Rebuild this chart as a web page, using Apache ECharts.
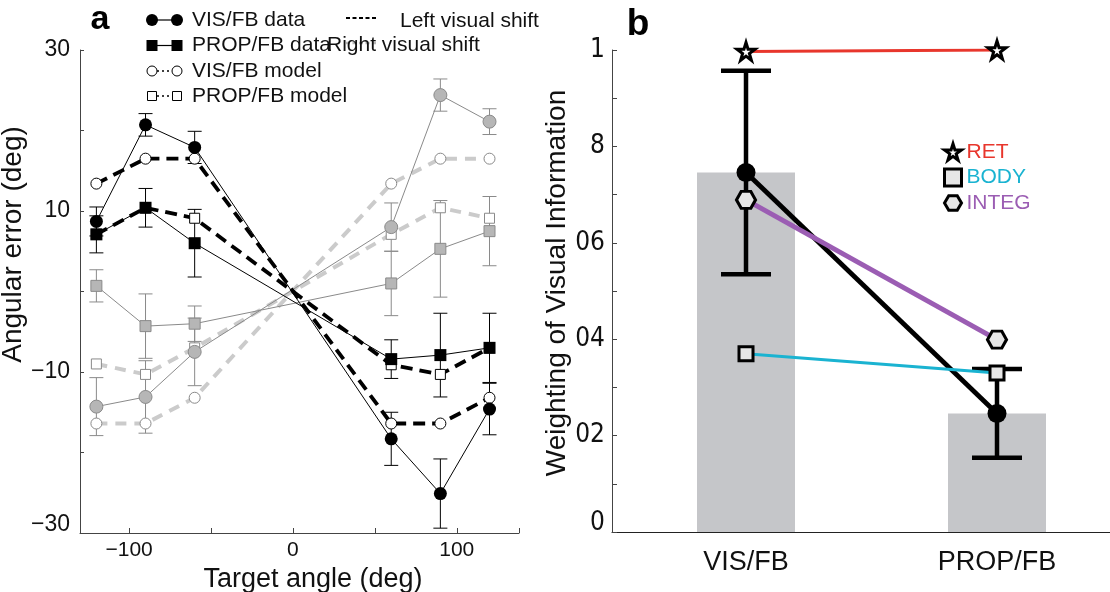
<!DOCTYPE html>
<html><head><meta charset="utf-8">
<script src="https://cdn.jsdelivr.net/npm/echarts@6/dist/echarts.min.js"></script>
<style>html,body{margin:0;padding:0;background:#fff}#c{width:1110px;height:592px}</style>
</head><body><div id="c"></div>
<script>
// ---------- Panel a data ----------
const angles = [-120, -90, -60, 60, 90, 120];
const visDataLeft   = [8.7, 20.7, 17.9, -18.3, -25.1, -14.6];
const visErrLeft    = [1.8, 1.4, 2.0, 3.3, 4.3, 3.2];
const propDataLeft  = [7.1, 10.4, 6.0, -8.4, -7.9, -7.0];
const propErrLeft   = [2.3, 2.4, 4.2, 2.4, 5.2, 4.3];
const visModelLeft  = [13.4, 16.5, 16.5, -16.4, -16.4, -13.2];
const propModelLeft = [7.1, 10.4, 9.1, -9.1, -10.3, -7.0];
const visDataRight   = [-14.3, -13.1, -7.5, 8.0, 24.4, 21.1];
const visErrRight    = [3.6, 4.5, 4.2, 3.0, 2.0, 1.6];
const propDataRight  = [0.7, -4.3, -4.0, 1.0, 5.3, 7.5];
const propErrRight   = [2.0, 4.0, 2.2, 4.0, 6.0, 4.3];
const visModelRight  = [-16.4, -16.4, -13.2, 13.4, 16.5, 16.5];
const propModelRight = [-9.0, -10.3, -7.0, 7.1, 10.4, 9.1];
const aXTickVals  = [-100, -50, 0, 50, 100, 138];
const aXLabelVals = [-100, 0, 100];
const aXLabels    = ['\u2212100', '0', '100'];
const aYTickVals  = [-30, -20, -10, 0, 10, 20, 30];
const aYLabelVals = [-30, -10, 10, 30];
const aYLabels    = ['\u221230', '\u221210', '10', '30'];

// ---------- Panel b data ----------
const conditions = ['VIS/FB', 'PROP/FB'];
const condPos    = [1, 2];
const weightMean = [0.746, 0.246];
const weightErr  = [0.211, 0.092];
const retW   = [0.997, 1.0];
const bodyW  = [0.370, 0.330];
const integW = [0.689, 0.399];
const bYTickVals  = [0, 0.1, 0.2, 0.3, 0.4, 0.5, 0.6, 0.7, 0.8, 0.9, 1];
const bYLabelVals = [0, 0.2, 0.4, 0.6, 0.8, 1];
const bYLabels    = ['0', '02', '04', '06', '8', '1'];

// ---------- styling ----------
const fontMain = "'Liberation Sans', Arial, Helvetica, sans-serif";
const fontNarrow = "'Liberation Sans Narrow', 'Arial Narrow', 'DejaVu Sans Condensed', 'Liberation Sans', sans-serif";
const ink = '#111';
const axisCol = '#444';
const grayLine = '#8a8a8a';
const grayFill = '#b6b6b6';
const grayDash = '#cbcbcb';
const starPath = 'path://M50,2 L61,37 L98,37 L68,59 L79,95 L50,73 L21,95 L32,59 L2,37 L39,37 Z';
const hexPath = 'path://M0,50 L25,7 L75,7 L100,50 L75,93 L25,93 Z';

function zip(xs, ys) { return xs.map((x, i) => [x, ys[i]]); }
function labelIdx(vals, v) { for (let i = 0; i < vals.length; i++) if (Math.abs(vals[i] - v) < 1e-9) return i; return -1; }

function errSeries(name, gi, xs, mean, err, color, lw, half) {
  return {
    type: 'custom', name: name, xAxisIndex: gi, yAxisIndex: gi, silent: true, z: 3,
    data: xs.map((x, i) => [x, mean[i] - err[i], mean[i] + err[i]]),
    encode: { x: 0, y: [1, 2] },
    renderItem: function (params, api) {
      const x = api.value(0);
      const lo = api.coord([x, api.value(1)]);
      const hi = api.coord([x, api.value(2)]);
      const st = () => ({ stroke: color, lineWidth: lw });
      return { type: 'group', children: [
        { type: 'line', shape: { x1: hi[0], y1: hi[1], x2: lo[0], y2: lo[1] }, style: st() },
        { type: 'line', shape: { x1: hi[0] - half, y1: hi[1], x2: hi[0] + half, y2: hi[1] }, style: st() },
        { type: 'line', shape: { x1: lo[0] - half, y1: lo[1], x2: lo[0] + half, y2: lo[1] }, style: st() }
      ]};
    }
  };
}

function lineSeries(name, gi, xs, ys, o) {
  return {
    type: 'line', name: name, xAxisIndex: gi, yAxisIndex: gi, silent: true,
    data: zip(xs, ys), symbol: o.symbol, symbolSize: o.size, showAllSymbol: true,
    lineStyle: { color: o.lineColor, width: o.width, type: o.dash || 'solid' },
    itemStyle: { color: o.fill, borderColor: o.border, borderWidth: o.bw || 0, opacity: 1 },
    emphasis: { disabled: true }, z: 3
  };
}

const series = [
  // ----- panel a: right visual shift (gray) -----
  errSeries('VIS/FB data err R', 0, angles, visDataRight, visErrRight, grayLine, 1, 7),
  errSeries('PROP/FB data err R', 0, angles, propDataRight, propErrRight, grayLine, 1, 7),
  lineSeries('VIS/FB model R', 0, angles, visModelRight, { symbol: 'circle', size: 11, lineColor: grayDash, width: 4, dash: [11, 8], fill: '#fff', border: grayLine, bw: 1 }),
  lineSeries('PROP/FB model R', 0, angles, propModelRight, { symbol: 'rect', size: 10, lineColor: grayDash, width: 4, dash: [11, 8], fill: '#fff', border: grayLine, bw: 1 }),
  lineSeries('VIS/FB data R', 0, angles, visDataRight, { symbol: 'circle', size: 13, lineColor: grayLine, width: 1, fill: grayFill, border: grayLine, bw: 1 }),
  lineSeries('PROP/FB data R', 0, angles, propDataRight, { symbol: 'rect', size: 11, lineColor: grayLine, width: 1, fill: grayFill, border: grayLine, bw: 1 }),
  // ----- panel a: left visual shift (black) -----
  errSeries('VIS/FB data err L', 0, angles, visDataLeft, visErrLeft, '#000', 1, 7),
  errSeries('PROP/FB data err L', 0, angles, propDataLeft, propErrLeft, '#000', 1, 7),
  lineSeries('VIS/FB model L', 0, angles, visModelLeft, { symbol: 'circle', size: 11, lineColor: '#000', width: 3.8, dash: [12, 7], fill: '#fff', border: '#000', bw: 1 }),
  lineSeries('PROP/FB model L', 0, angles, propModelLeft, { symbol: 'rect', size: 10, lineColor: '#000', width: 3.8, dash: [12, 7], fill: '#fff', border: '#000', bw: 1 }),
  lineSeries('VIS/FB data L', 0, angles, visDataLeft, { symbol: 'circle', size: 13, lineColor: '#000', width: 1, fill: '#000', border: '#000', bw: 0 }),
  lineSeries('PROP/FB data L', 0, angles, propDataLeft, { symbol: 'rect', size: 12, lineColor: '#000', width: 1, fill: '#000', border: '#000', bw: 0 }),
  // ----- panel b -----
  { type: 'bar', name: 'mean bar', xAxisIndex: 1, yAxisIndex: 1, silent: true, barWidth: 98, z: 1,
    data: zip(condPos, weightMean), itemStyle: { color: '#c5c6c9' } },
  errSeries('weight err', 1, condPos, weightMean, weightErr, '#000', 4.5, 25),
  lineSeries('mean', 1, condPos, weightMean, { symbol: 'circle', size: 19, lineColor: '#000', width: 4.8, fill: '#000', border: '#000', bw: 0 }),
  lineSeries('RET', 1, condPos, retW, { symbol: starPath, size: 18, lineColor: '#e8362c', width: 3, fill: '#fff', border: '#000', bw: 3 }),
  lineSeries('BODY', 1, condPos, bodyW, { symbol: 'rect', size: 14, lineColor: '#1ab3d1', width: 3, fill: '#e6e6e6', border: '#000', bw: 3 }),
  lineSeries('INTEG', 1, condPos, integW, { symbol: hexPath, size: [19, 17], lineColor: '#9b5db3', width: 5, fill: '#e6e6e6', border: '#000', bw: 3 })
];

function legendRow(y, kind) {
  const els = [];
  const dotted = kind === 'oc' || kind === 'os';
  els.push({ type: 'line', shape: { x1: 152, y1: y, x2: 177, y2: y }, style: { stroke: '#000', lineWidth: dotted ? 1.5 : 1.2, lineDash: dotted ? [2, 3] : null } });
  [152, 177].forEach(x => {
    if (kind === 'fc') els.push({ type: 'circle', shape: { cx: x, cy: y, r: 6 }, style: { fill: '#000' } });
    if (kind === 'fs') els.push({ type: 'rect', shape: { x: x - 5.5, y: y - 5.5, width: 11, height: 11 }, style: { fill: '#000' } });
    if (kind === 'oc') els.push({ type: 'circle', shape: { cx: x, cy: y, r: 5 }, style: { fill: '#fff', stroke: '#000', lineWidth: 1 } });
    if (kind === 'os') els.push({ type: 'rect', shape: { x: x - 4.5, y: y - 4.5, width: 9, height: 9 }, style: { fill: '#fff', stroke: '#000', lineWidth: 1 } });
  });
  return els;
}
const legendText = (x, y, t) => ({ type: 'text', x: x, y: y, style: { text: t, fill: ink, font: '21px ' + fontMain, textVerticalAlign: 'middle', textAlign: 'left' } });

const graphic = [].concat(
  [{ type: 'text', x: 100, y: 20, style: { text: 'a', fill: '#000', font: 'bold 34px ' + fontMain, textAlign: 'center', textVerticalAlign: 'middle' } },
   { type: 'text', x: 638, y: 25, style: { text: 'b', fill: '#000', font: 'bold 37px ' + fontMain, textAlign: 'center', textVerticalAlign: 'middle' } }],
  legendRow(20, 'fc'), legendRow(45.5, 'fs'), legendRow(71, 'oc'), legendRow(96, 'os'),
  [{ type: 'line', shape: { x1: 346, y1: 18, x2: 376, y2: 18 }, style: { stroke: '#000', lineWidth: 2, lineDash: [4, 2.5] } },
   { type: 'line', shape: { x1: 346, y1: 43, x2: 376, y2: 43 }, style: { stroke: '#b8b8b8', lineWidth: 2.5, lineDash: [4, 2.5] } },
   legendText(192, 20, 'VIS/FB data'), legendText(192, 45.5, 'PROP/FB data'),
   legendText(192, 71, 'VIS/FB model'), legendText(192, 96, 'PROP/FB model'),
   legendText(400, 21, 'Left visual shift'), legendText(327, 45, 'Right visual shift')]
);

const chart = echarts.init(document.getElementById('c'), null, { renderer: 'canvas' });
chart.setOption({
  animation: false,
  backgroundColor: '#fff',
  grid: [
    { left: 80, top: 50, width: 439, height: 483, containLabel: false, outerBoundsMode: 'none' },
    { left: 612, top: 50, width: 498, height: 482, containLabel: false, outerBoundsMode: 'none' }
  ],
  xAxis: [
    { gridIndex: 0, type: 'value', min: -130, max: 138,
      axisLine: { onZero: false, lineStyle: { color: axisCol, width: 1 } },
      axisTick: { inside: true, length: 5, customValues: aXTickVals, lineStyle: { color: axisCol } },
      axisLabel: { customValues: aXLabelVals, formatter: v => aXLabels[labelIdx(aXLabelVals, v)], fontSize: 21, margin: 7, color: ink, fontFamily: fontMain },
      splitLine: { show: false },
      name: 'Target angle (deg)', nameLocation: 'middle', nameGap: 30,
      nameTextStyle: { fontSize: 27, color: ink, fontFamily: fontMain, padding: [0, 0, 0, 27] } },
    { gridIndex: 1, type: 'value', min: 0.4661, max: 2.4502,
      axisLine: { onZero: false, lineStyle: { color: '#222', width: 1 } },
      axisTick: { show: false },
      axisLabel: { customValues: condPos, formatter: v => conditions[labelIdx(condPos, v)], fontSize: 27, margin: 17, color: ink, fontFamily: fontMain },
      splitLine: { show: false } }
  ],
  yAxis: [
    { gridIndex: 0, type: 'value', min: -30, max: 30,
      axisLine: { show: true, onZero: false, lineStyle: { color: axisCol, width: 1 } },
      axisTick: { show: true, inside: true, length: 4, customValues: aYTickVals, lineStyle: { color: axisCol } },
      axisLabel: { customValues: aYLabelVals, fontSize: 23, margin: 10, color: ink, fontFamily: fontMain,
        formatter: v => { const t = aYLabels[labelIdx(aYLabelVals, v)]; return v === -30 ? '{lo|' + t + '}' : t; },
        rich: { lo: { fontSize: 23, color: ink, fontFamily: fontMain, padding: [0, 0, 16, 0] } } },
      splitLine: { show: false },
      name: 'Angular error (deg)', nameLocation: 'middle', nameGap: 42,
      nameTextStyle: { fontSize: 28, color: ink, fontFamily: fontMain, padding: [0, 0, 0, 94] } },
    { gridIndex: 1, type: 'value', min: 0, max: 1,
      axisLine: { show: true, onZero: false, lineStyle: { color: axisCol, width: 1 } },
      axisTick: { show: true, inside: true, length: 5, customValues: bYTickVals, lineStyle: { color: axisCol } },
      axisLabel: { customValues: bYLabelVals, fontSize: 26, margin: 7, color: ink, fontFamily: fontNarrow,
        formatter: v => { const t = bYLabels[labelIdx(bYLabelVals, v)]; return v === 0 ? '{lo|' + t + '}' : t; },
        rich: { lo: { fontSize: 26, color: ink, fontFamily: fontNarrow, padding: [0, 0, 18, 0] } } },
      splitLine: { show: false },
      name: 'Weighting of Visual Information', nameLocation: 'middle', nameGap: 38,
      nameTextStyle: { fontSize: 28, color: ink, fontFamily: fontMain, padding: [0, 0, 0, 16] } }
  ],
  legend: {
    left: 938, top: 136, orient: 'vertical', itemWidth: 17, itemHeight: 17, itemGap: 3.5,
    selectedMode: false,
    textStyle: { fontSize: 21, fontFamily: fontMain, lineHeight: 22 },
    data: [
      { name: 'RET', icon: starPath, itemStyle: { color: '#fff', borderColor: '#000', borderWidth: 3 }, textStyle: { color: '#e8362c', fontSize: 21, fontFamily: fontMain } },
      { name: 'BODY', icon: 'rect', itemStyle: { color: '#e6e6e6', borderColor: '#000', borderWidth: 3 }, textStyle: { color: '#1ab3d1', fontSize: 21, fontFamily: fontMain } },
      { name: 'INTEG', icon: hexPath, itemStyle: { color: '#e6e6e6', borderColor: '#000', borderWidth: 3 }, textStyle: { color: '#9b5db3', fontSize: 21, fontFamily: fontMain } }
    ]
  },
  graphic: graphic,
  series: series
});
</script></body></html>
